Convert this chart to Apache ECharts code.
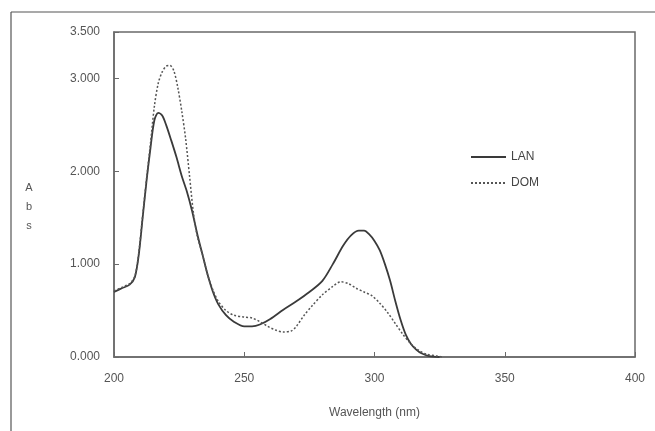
<!DOCTYPE html>
<html>
<head>
<meta charset="utf-8">
<script src="https://cdn.jsdelivr.net/npm/echarts@6/dist/echarts.min.js"></script>
<style>html,body{margin:0;padding:0;background:#fff;}#c{width:655px;height:431px;}</style>
</head>
<body>
<div id="c"></div>
<script>
var seriesNames = ['LAN', 'DOM'];
var yAxisTitle = 'A\nb\ns';
var xTicks = [200, 250, 300, 350, 400];
var lanX = [200,203,206,208,209.5,211,212.5,214,215.5,217,218.5,220,222,224,226,228,230,232,234,236,238,240,243,246,250,253,256,260,265,270,275,280,284,288,291,294,296,298,300,302,304,306,308,310,312,314,316,318,321,325];
var lanY = [0.70,0.74,0.78,0.86,1.10,1.50,1.90,2.25,2.55,2.63,2.60,2.50,2.33,2.15,1.95,1.78,1.57,1.32,1.10,0.88,0.70,0.57,0.45,0.38,0.33,0.33,0.35,0.41,0.51,0.60,0.70,0.82,1.00,1.20,1.31,1.36,1.36,1.32,1.25,1.15,1.00,0.82,0.60,0.40,0.24,0.14,0.08,0.04,0.01,0.00];
var domX = [200,203,206,208,209.5,211,212.5,214,215.5,217,218.5,220,221.5,223,224.5,226,227.5,229,230.5,232,234,236,238,240,243,246,250,253,256,259,262,265,268,270,273,276,280,284,287,290,293,296,299,302,305,308,311,314,317,320,324,326];
var domY = [0.71,0.75,0.79,0.87,1.12,1.52,1.92,2.30,2.70,2.95,3.07,3.13,3.14,3.08,2.90,2.65,2.35,1.95,1.55,1.30,1.10,0.88,0.72,0.60,0.50,0.45,0.43,0.42,0.38,0.33,0.29,0.27,0.28,0.33,0.45,0.55,0.67,0.76,0.81,0.79,0.74,0.70,0.66,0.58,0.48,0.36,0.24,0.14,0.07,0.03,0.01,0.00];

function zip(xs, ys){ var o=[]; for(var i=0;i<xs.length;i++) o.push([xs[i], ys[i]]); return o; }

var chart = echarts.init(document.getElementById('c'), null, {renderer:'canvas'});
var axisGray = '#6a6a6a';
var textGray = '#555';
chart.setOption({
  animation: false,
  backgroundColor: '#fff',
  grid: {left: 114, right: 20, top: 32, bottom: 74, show: true, borderColor: axisGray, borderWidth: 1.5, backgroundColor: 'transparent'},
  xAxis: {
    type: 'value', min: 200, max: 400, interval: 50,
    name: 'Wavelength (nm)', nameLocation: 'middle', nameGap: 50,
    nameTextStyle: {color: textGray, fontSize: 12, fontFamily: 'Liberation Sans'},
    axisLine: {show: true, onZero: false, lineStyle: {color: axisGray, width: 1.5}},
    axisTick: {show: true, inside: true, length: 5, lineStyle: {color: axisGray}},
    axisLabel: {color: textGray, fontSize: 12, fontFamily: 'Liberation Sans', margin: 16},
    splitLine: {show: false}
  },
  yAxis: {
    type: 'value', min: 0, max: 3.5, interval: 1,
    axisLine: {show: true, lineStyle: {color: axisGray, width: 1.5}},
    axisTick: {show: true, inside: true, length: 5, lineStyle: {color: axisGray}},
    axisLabel: {color: textGray, fontSize: 12, fontFamily: 'Liberation Sans', margin: 14,
      formatter: function(v){ return v.toFixed(3); }},
    splitLine: {show: false}
  },
  legend: {
    orient: 'vertical', left: 465, top: 146, itemWidth: 35, itemHeight: 14, itemGap: 14,
    itemStyle: {opacity: 0},
    textStyle: {color: '#444', fontSize: 12, fontFamily: 'Liberation Sans'},
    data: seriesNames
  },
  series: [
    {name: seriesNames[0], type: 'line', data: zip(lanX, lanY), symbol: 'none', smooth: 0.3,
     lineStyle: {color: '#3a3a3a', width: 1.8}, itemStyle: {color: '#3a3a3a'}},
    {name: seriesNames[1], type: 'line', data: zip(domX, domY), symbol: 'none', smooth: 0.3,
     lineStyle: {color: '#555', width: 1.5, type: [2, 2]}, itemStyle: {color: '#555'}}
  ],
  graphic: [
    {type: 'line', shape: {x1: 11, y1: 12, x2: 655, y2: 12}, style: {stroke: '#555', lineWidth: 1.2}},
    {type: 'line', shape: {x1: 11, y1: 12, x2: 11, y2: 431}, style: {stroke: '#555', lineWidth: 1.2}},
    {type: 'text', x: 29, y: 178, style: {text: yAxisTitle, fill: textGray, fontSize: 11,
      fontFamily: 'Liberation Sans', lineHeight: 19, align: 'center', verticalAlign: 'top'}}
  ]
});
</script>
</body>
</html>
